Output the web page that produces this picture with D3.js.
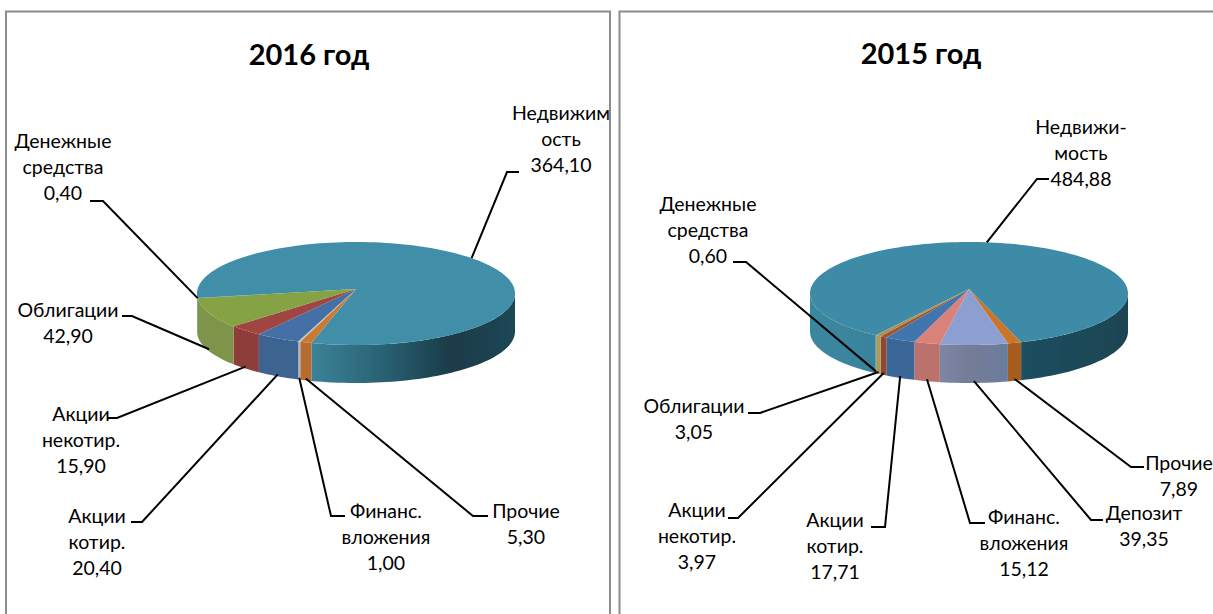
<!DOCTYPE html>
<html>
<head>
<meta charset="utf-8">
<script src="https://cdn.jsdelivr.net/npm/d3@7/dist/d3.min.js"></script>
<style>
html, body { margin: 0; padding: 0; background: #fff; overflow: hidden; }
text { font-family: Lato, "Open Sans", sans-serif; fill: #000; }
</style>
</head>
<body>
<svg width="1213" height="614"></svg>
<script>
// values
var names2016 = [["Недвижим", "ость"], ["Прочие"], ["Финанс.", "вложения"], ["Акции", "котир."], ["Акции", "некотир."], ["Облигации"], ["Денежные", "средства"]];
var values2016 = [364.10, 5.30, 1.00, 20.40, 15.90, 42.90, 0.40];
var names2015 = [["Недвижи-", "мость"], ["Прочие"], ["Депозит"], ["Финанс.", "вложения"], ["Акции", "котир."], ["Акции", "некотир."], ["Облигации"], ["Денежные", "средства"]];
var values2015 = [484.88, 7.89, 39.35, 15.12, 17.71, 3.97, 3.05, 0.60];

// colours, same order as the values
var top2016 = ["#3f8ea8", "#cc7a33", "#b9c6dc", "#4470a5", "#a04442", "#85a244", "#3f8ea8"];
var side2016 = ["url(#teal2016)", "#b56c2e", "#a9b6cc", "#3d6491", "#8f3c3b", "#7d9448", "#7d9448"];
var top2015 = ["#3d8ba6", "#c9752c", "#8c9fd0", "#d9827a", "#3f74ad", "#a0523a", "#ad9040", "#3d8ba6"];
var side2015 = ["url(#teal2015)", "#a65c1c", "url(#depo2015)", "#bb726c", "#3a6698", "#8e4a34", "#b09a50", "#3a8299"];

// label layout: [label centre x, first line y, elbow x, elbow y, end x, leader start nudge in degrees]
var layout2016 = [
  [561, 113, 507, 172, 519, -4],
  [526, 511, 473, 516, 488, 0],
  [386, 511, 331, 516, 345, 0],
  [97, 516, 142, 522, 131, 0],
  [81, 414, 117, 418, 107, 0],
  [68, 310, 132, 316, 122, 0],
  [63, 141, 103, 201, 90, 0]
];
var layout2015 = [
  [1081, 127, 1037, 179, 1049, -2],
  [1179, 463, 1131, 467, 1144, 0],
  [1144, 513, 1091, 520, 1103, 0],
  [1024, 517, 970, 523, 985, 0],
  [835, 520, 885, 527, 871, 0],
  [697, 510, 738, 518, 728, 0],
  [694, 406, 760, 413, 748, 0],
  [708, 204, 746, 262, 733, 0]
];

var svg = d3.select("svg"),
    defs = svg.append("defs"),
    rx = 159,
    ry = 51.5,
    cy = 293.5,
    apexY = 289,
    depth = 38,
    lineH = 26.2;

defs.append("filter").attr("id", "soft")
  .append("feGaussianBlur").attr("stdDeviation", 0.6);

function gradient(id, x1, x2, stops) {
  var g = defs.append("linearGradient").attr("id", id)
      .attr("gradientUnits", "userSpaceOnUse")
      .attr("x1", x1).attr("x2", x2).attr("y1", 0).attr("y2", 0);
  stops.forEach(function(s) {
    g.append("stop").attr("offset", (s[0] - x1) / (x2 - x1)).attr("stop-color", s[1]);
  });
}
gradient("teal2016", 197, 515, [[312, "#3b8297"], [380, "#2a6375"], [450, "#1a3c48"], [515, "#1d4655"]]);
gradient("teal2015", 810, 1128, [[810, "#3b87a0"], [875, "#39839b"], [1026, "#1c4e5f"], [1128, "#1e4452"]]);
gradient("depo2015", 936, 1012, [[936, "#7f88a8"], [970, "#757b95"], [1012, "#6a7da0"]]);

// frames
svg.append("rect").attr("x", 6).attr("y", 11.5).attr("width", 604).attr("height", 620)
    .attr("fill", "none").attr("stroke", "#8c8c8c").attr("stroke-width", 2);
svg.append("rect").attr("x", 619.5).attr("y", 11.5).attr("width", 620).attr("height", 620)
    .attr("fill", "none").attr("stroke", "#8c8c8c").attr("stroke-width", 2);

function drawChart(title, titleX, titleY, cx, startDeg, names, values, tops, sides, layout) {
  var g = svg.append("g"),
      rad = Math.PI / 180,
      x = d3.scaleLinear().domain([-1, 1]).range([cx - rx, cx + rx]),
      y = d3.scaleLinear().domain([-1, 1]).range([cy + ry, cy - ry]),
      line = d3.line();

  var pie = d3.pie().sort(null)
      .startAngle(startDeg * rad)
      .endAngle((startDeg + 360) * rad);
  var arcs = pie(values);

  function rim(a) { return [x(Math.sin(a)), y(Math.cos(a))]; }

  function steps(a0, a1) {
    var n = Math.max(2, Math.ceil((a1 - a0) / (2 * rad)));
    return d3.range(n + 1).map(function(i) { return a0 + (a1 - a0) * i / n; });
  }

  var marks = g.append("g").attr("filter", "url(#soft)");

  // side wall: only the front half of the turn is visible
  arcs.forEach(function(d, i) {
    [[90, 270], [450, 630]].forEach(function(front) {
      var a0 = Math.max(d.startAngle, front[0] * rad),
          a1 = Math.min(d.endAngle, front[1] * rad);
      if (a1 <= a0) return;
      var upper = steps(a0, a1).map(rim);
      var lower = upper.map(function(p) { return [p[0], p[1] + depth]; }).reverse();
      marks.append("path")
          .attr("d", line(upper.concat(lower)) + "Z")
          .attr("fill", sides[i]);
    });
  });

  // top face
  arcs.forEach(function(d, i) {
    var pts = [[cx, apexY]].concat(steps(d.startAngle, d.endAngle).map(rim));
    marks.append("path")
        .attr("d", line(pts) + "Z")
        .attr("fill", tops[i]);
  });

  // leader lines and labels
  arcs.forEach(function(d, i) {
    var l = layout[i],
        mid = (d.startAngle + d.endAngle) / 2 + l[5] * rad,
        p = rim(mid);
    if (Math.cos(mid) < -0.2) p[1] += depth * 0.95;
    g.append("path")
        .attr("d", line([p, [l[2], l[3]], [l[4], l[3]]]))
        .attr("fill", "none")
        .attr("stroke", "#000")
        .attr("stroke-width", 2);

    var rows = names[i].concat([values[i].toFixed(2).replace(".", ",")]);
    rows.forEach(function(r, k) {
      g.append("text")
          .attr("x", l[0])
          .attr("y", l[1] + k * lineH)
          .attr("dy", "0.36em")
          .attr("text-anchor", "middle")
          .attr("font-size", 19.5)
          .text(r);
    });
  });

  g.append("text")
      .attr("x", titleX)
      .attr("y", titleY)
      .attr("dy", "0.36em")
      .attr("text-anchor", "middle")
      .attr("font-size", 29)
      .attr("font-weight", 700)
      .text(title);
}

drawChart("2016 год", 309, 55, 356, 265, names2016, values2016, top2016, side2016, layout2016);
drawChart("2015 год", 921, 54, 969, 216, names2015, values2015, top2015, side2015, layout2015);
</script>
</body>
</html>
